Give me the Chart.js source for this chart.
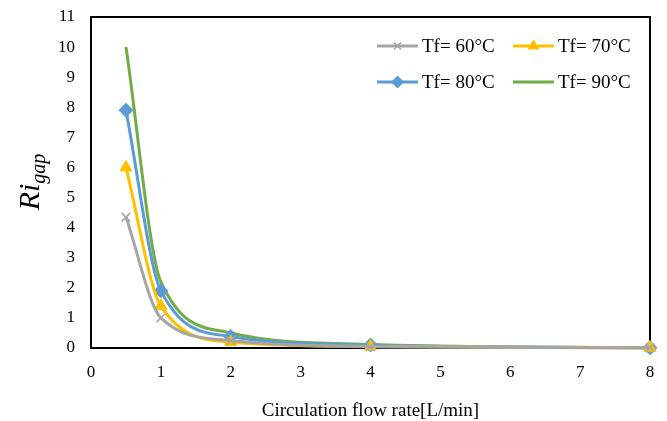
<!DOCTYPE html>
<html>
<head>
<meta charset="utf-8">
<script src="https://cdn.jsdelivr.net/npm/chart.js@4"></script>
<style>
	html, body { margin: 0; padding: 0; background: #fff; }
	#wrap { width: 667px; height: 421px; }
</style>
</head>
<body>
<div id="wrap"><canvas id="riChart" width="667" height="421"></canvas></div>
<script>
// flow rate [L/min]
const flowRates = [0.5, 1, 2, 4, 8];

const seriesLabels = ['Tf= 60°C', 'Tf= 70°C', 'Tf= 80°C', 'Tf= 90°C'];
const ri60 = [4.35, 1.0, 0.25, 0.04, 0.01];
const ri70 = [6.0, 1.4, 0.2, 0.05, 0.01];
const ri80 = [7.9, 1.9, 0.38, 0.1, 0.01];
const ri90 = [10.0, 2.2, 0.5, 0.12, 0.01];

const xTicks = [0, 1, 2, 3, 4, 5, 6, 7, 8];
const yTicks = [0, 1, 2, 3, 4, 5, 6, 7, 8, 9, 10, 11];

const serif = "'Liberation Serif', 'Times New Roman', serif";

function toPoints(ys) {
	return flowRates.map((x, i) => ({ x: x, y: ys[i] }));
}

function makeSet(label, ys, color, style, radius) {
	return {
		label: label,
		data: toPoints(ys),
		borderColor: color,
		backgroundColor: color,
		borderWidth: 3,
		pointStyle: style,
		pointRadius: radius,
		pointBorderWidth: style === 'crossRot' ? 1.5 : 1,
		pointBorderColor: color,
		cubicInterpolationMode: 'monotone',
		clip: false
	};
}

// legend drawn by hand: Excel style line sample with marker in the middle
const boxLegend = {
	id: 'boxLegend',
	beforeDatasetsDraw(chart) {
		const { ctx, chartArea } = chart;
		ctx.save();
		ctx.strokeStyle = '#000';
		ctx.lineWidth = 2;
		ctx.strokeRect(chartArea.left, chartArea.top, chartArea.right - chartArea.left, chartArea.bottom - chartArea.top);
		ctx.restore();
	},
	afterDraw(chart) {
		const { ctx } = chart;
		const spots = [[377, 46], [513, 46], [377, 82], [513, 82]];
		ctx.save();
		chart.data.datasets.forEach((ds, i) => {
			const [lx, ly] = spots[i];
			ctx.strokeStyle = ds.borderColor;
			ctx.lineWidth = 3;
			ctx.beginPath();
			ctx.moveTo(lx, ly);
			ctx.lineTo(lx + 41, ly);
			ctx.stroke();
			if (ds.pointRadius > 0) {
				ctx.fillStyle = ds.backgroundColor;
				ctx.lineWidth = ds.pointBorderWidth;
				Chart.helpers.drawPoint(ctx, { pointStyle: ds.pointStyle, radius: ds.pointRadius - 1, borderWidth: ds.pointBorderWidth }, lx + 20.5, ly);
			}
			ctx.fillStyle = '#000';
			ctx.font = '19px ' + serif;
			ctx.textBaseline = 'middle';
			ctx.textAlign = 'left';
			ctx.fillText(ds.label, lx + 45, ly + 1);
		});

		// y axis title: Ri with subscript "gap"
		ctx.translate(39, 182);
		ctx.rotate(-Math.PI / 2);
		ctx.fillStyle = '#000';
		ctx.textBaseline = 'alphabetic';
		ctx.textAlign = 'left';
		const riFont = 'italic 30px ' + serif;
		const gapFont = 'italic 20px ' + serif;
		ctx.font = riFont;
		const riW = ctx.measureText('Ri').width;
		ctx.font = gapFont;
		const gapW = ctx.measureText('gap').width;
		const start = -(riW + gapW) / 2;
		ctx.font = riFont;
		ctx.fillText('Ri', start, 0);
		ctx.font = gapFont;
		ctx.fillText('gap', start + riW, 6);
		ctx.restore();
	}
};

const ctx = document.getElementById('riChart').getContext('2d');
const riChart = new Chart(ctx, {
	type: 'line',
	data: {
		datasets: [
			makeSet(seriesLabels[0], ri60, '#A5A5A5', 'crossRot', 6),
			makeSet(seriesLabels[1], ri70, '#FFC000', 'triangle', 7),
			makeSet(seriesLabels[2], ri80, '#5B9BD5', 'rectRot', 7),
			makeSet(seriesLabels[3], ri90, '#70AD47', 'circle', 0)
		]
	},
	options: {
		responsive: false,
		animation: false,
		layout: { padding: { top: 17, right: 17, left: 0, bottom: 0 } },
		plugins: {
			legend: { display: false },
			tooltip: { enabled: false }
		},
		scales: {
			x: {
				type: 'linear',
				min: 0,
				max: 8,
				afterBuildTicks: (scale) => { scale.ticks = xTicks.map(v => ({ value: v })); },
				afterFit: (scale) => { scale.height = 73; scale.paddingLeft = 0; scale.paddingRight = 0; },
				grid: { display: false, drawTicks: false },
				border: { display: true, color: '#000', width: 2 },
				ticks: { color: '#000', font: { family: serif, size: 17 }, padding: 14 },
				title: {
					display: true,
					text: 'Circulation flow rate[L/min]',
					color: '#000',
					font: { family: serif, size: 19 },
					padding: { top: 14, bottom: -1.5 }
				}
			},
			y: {
				min: 0,
				max: 11,
				afterBuildTicks: (scale) => { scale.ticks = yTicks.map(v => ({ value: v })); },
				afterFit: (scale) => { scale.width = 91; scale.paddingTop = 0; scale.paddingBottom = 0; },
				grid: { display: false, drawTicks: false },
				border: { display: true, color: '#000', width: 2 },
				ticks: { color: '#000', font: { family: serif, size: 17 }, padding: 16 }
			}
		}
	},
	plugins: [boxLegend]
});
</script>
</body>
</html>
